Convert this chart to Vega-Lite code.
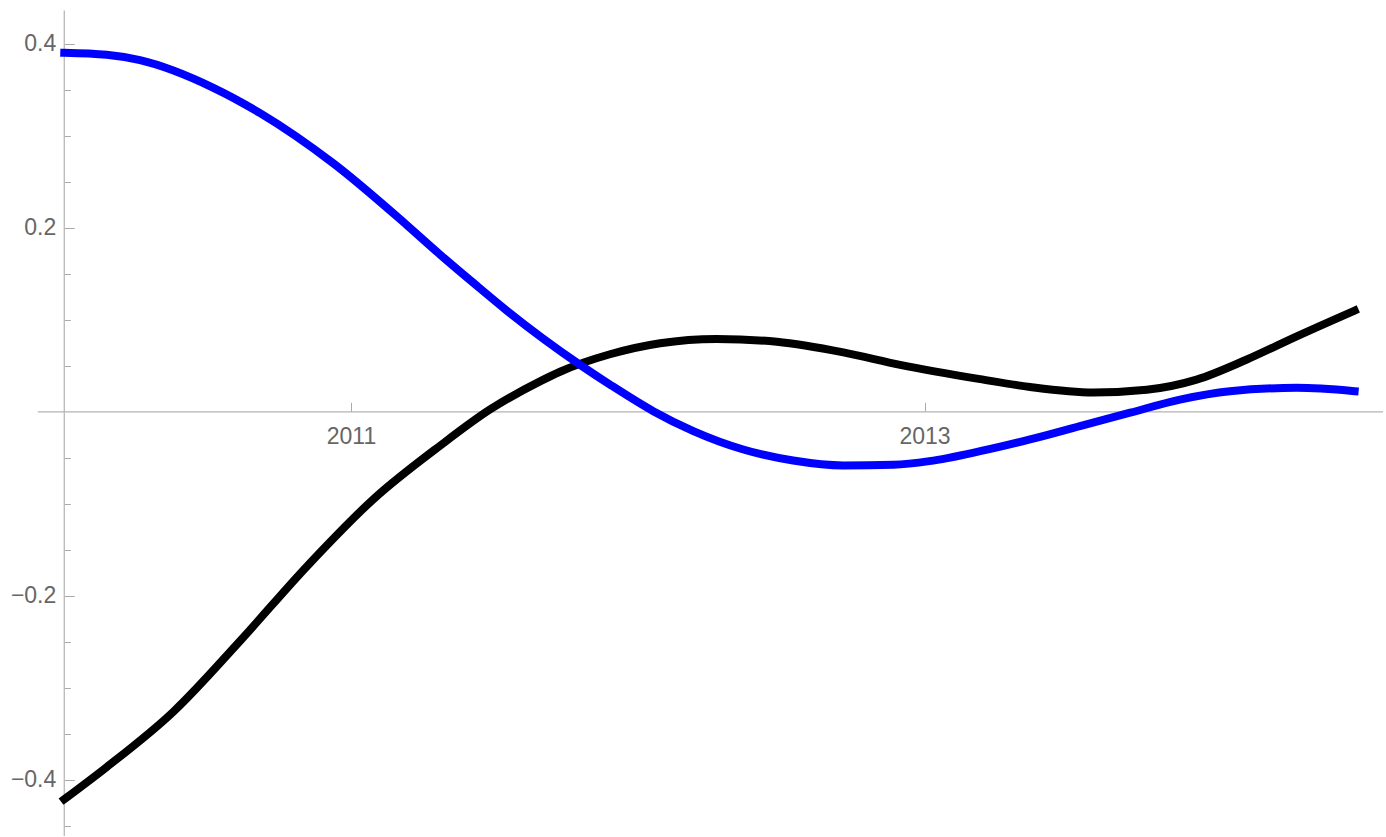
{
  "$schema": "https://vega.github.io/schema/vega-lite/v6.json",
  "width": 1386,
  "height": 837,
  "autosize": {"type": "fit", "contains": "padding"},
  "padding": 0,
  "background": "white",
  "view": {"stroke": null},
  "config": {
    "font": "Liberation Sans",
    "axis": {"labelFont": "Liberation Sans", "labelFontSize": 23, "labelColor": "#666666", "tickColor": "#aaaaaa", "tickWidth": 1, "domain": false, "grid": false, "title": null}
  },
  "datasets": {
    "frame": [
      {"t": 2009.908, "t2": 2014.599, "v": 0, "v2": 0},
      {"t": 2010, "t2": 2010, "v": 0.436, "v2": -0.4609}
    ],
    "curves": [
      {"series": "black", "t": 2010.0, "v": -0.421},
      {"series": "black", "t": 2010.148, "v": -0.386},
      {"series": "black", "t": 2010.38, "v": -0.326},
      {"series": "black", "t": 2010.613, "v": -0.249},
      {"series": "black", "t": 2010.846, "v": -0.168},
      {"series": "black", "t": 2011.078, "v": -0.095},
      {"series": "black", "t": 2011.31, "v": -0.037},
      {"series": "black", "t": 2011.485, "v": 0.0025},
      {"series": "black", "t": 2011.659, "v": 0.033},
      {"series": "black", "t": 2011.729, "v": 0.0435},
      {"series": "black", "t": 2011.903, "v": 0.0625},
      {"series": "black", "t": 2012.078, "v": 0.0745},
      {"series": "black", "t": 2012.275, "v": 0.0792},
      {"series": "black", "t": 2012.485, "v": 0.076},
      {"series": "black", "t": 2012.717, "v": 0.0645},
      {"series": "black", "t": 2012.915, "v": 0.051},
      {"series": "black", "t": 2013.194, "v": 0.0355},
      {"series": "black", "t": 2013.368, "v": 0.027},
      {"series": "black", "t": 2013.589, "v": 0.021},
      {"series": "black", "t": 2013.775, "v": 0.024},
      {"series": "black", "t": 2013.949, "v": 0.035},
      {"series": "black", "t": 2014.124, "v": 0.0568},
      {"series": "black", "t": 2014.298, "v": 0.082},
      {"series": "black", "t": 2014.5, "v": 0.110},
      {"series": "blue", "t": 2010.0, "v": 0.390},
      {"series": "blue", "t": 2010.148, "v": 0.3878},
      {"series": "blue", "t": 2010.264, "v": 0.382},
      {"series": "blue", "t": 2010.52, "v": 0.352},
      {"series": "blue", "t": 2010.683, "v": 0.3245},
      {"series": "blue", "t": 2010.938, "v": 0.270},
      {"series": "blue", "t": 2011.194, "v": 0.203},
      {"series": "blue", "t": 2011.31, "v": 0.171},
      {"series": "blue", "t": 2011.427, "v": 0.140},
      {"series": "blue", "t": 2011.543, "v": 0.110},
      {"series": "blue", "t": 2011.799, "v": 0.051},
      {"series": "blue", "t": 2011.903, "v": 0.0296},
      {"series": "blue", "t": 2012.054, "v": 0.0007},
      {"series": "blue", "t": 2012.194, "v": -0.021},
      {"series": "blue", "t": 2012.368, "v": -0.041},
      {"series": "blue", "t": 2012.542, "v": -0.053},
      {"series": "blue", "t": 2012.717, "v": -0.0584},
      {"series": "blue", "t": 2012.891, "v": -0.0575},
      {"series": "blue", "t": 2013.017, "v": -0.0536},
      {"series": "blue", "t": 2013.194, "v": -0.0428},
      {"series": "blue", "t": 2013.368, "v": -0.030},
      {"series": "blue", "t": 2013.542, "v": -0.0155},
      {"series": "blue", "t": 2013.717, "v": -0.001},
      {"series": "blue", "t": 2013.891, "v": 0.0133},
      {"series": "blue", "t": 2014.065, "v": 0.0224},
      {"series": "blue", "t": 2014.298, "v": 0.026},
      {"series": "blue", "t": 2014.5, "v": 0.0224}
    ]
  },
  "layer": [
    {
      "data": {"name": "frame"},
      "mark": {"type": "rule", "color": "#b3b3b3", "strokeWidth": 1.2},
      "encoding": {
        "x": {"field": "t", "type": "quantitative", "scale": {"domain": [2009.7759, 2014.6094], "nice": false, "zero": false},
          "axis": {"orient": "bottom", "offset": -424.7, "values": [2011, 2013], "format": "d", "tickSize": -9, "labelPadding": 23.5, "labelBaseline": "top"}},
        "x2": {"field": "t2"},
        "y": {"field": "v", "type": "quantitative", "scale": {"domain": [-0.4609, 0.4474], "nice": false, "zero": false},
          "axis": {"orient": "left", "offset": -64.3,
            "values": [-0.45, -0.4, -0.35, -0.3, -0.25, -0.2, -0.15, -0.1, -0.05, 0.05, 0.1, 0.15, 0.2, 0.25, 0.3, 0.35, 0.4],
            "tickSize": {"condition": {"test": "abs(datum.value*5 - round(datum.value*5)) < 0.001", "value": -10}, "value": -6},
            "labelExpr": "abs(datum.value*5 - round(datum.value*5)) < 0.001 ? datum.label : ''",
            "format": ".1f", "labelPadding": 18.5, "labelBaseline": "middle"}},
        "y2": {"field": "v2"}
      }
    },
    {
      "data": {"name": "curves"},
      "mark": {"type": "line", "strokeWidth": 8, "strokeCap": "square", "interpolate": "monotone"},
      "encoding": {
        "x": {"field": "t", "type": "quantitative"},
        "y": {"field": "v", "type": "quantitative"},
        "color": {"field": "series", "type": "nominal", "scale": {"domain": ["black", "blue"], "range": ["#000000", "#0000ff"]}, "legend": null},
        "order": {"field": "t", "type": "quantitative"}
      }
    }
  ]
}
